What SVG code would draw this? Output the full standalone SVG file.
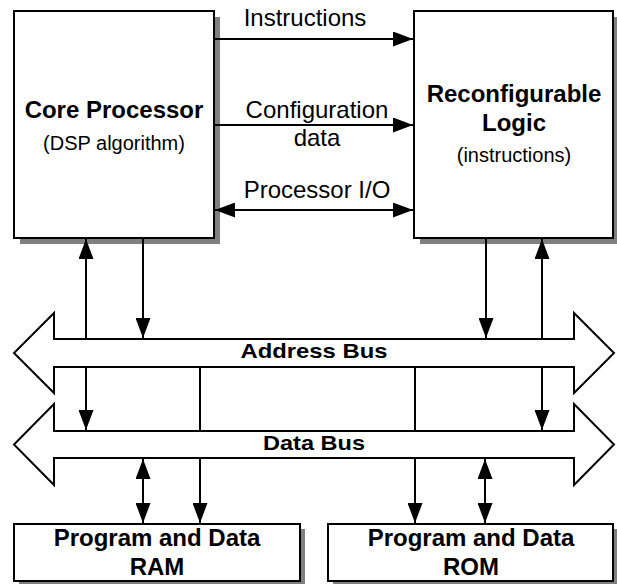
<svg xmlns="http://www.w3.org/2000/svg" width="617" height="584" viewBox="0 0 617 584">
<style>
.box{fill:#fff;stroke:#000;stroke-width:2}
.shadow{fill:#808080}
.bus{fill:#fff;stroke:#000;stroke-width:2;stroke-linejoin:miter}
.c{stroke:#000;stroke-width:2;fill:none}
.a{marker-end:url(#ah)}
.d{marker-start:url(#ah);marker-end:url(#ah)}
text{font-family:"Liberation Sans",Arial,sans-serif;fill:#000;text-anchor:middle}
.b{font-weight:bold;font-size:24px}
.r{font-size:24px}
.s{font-size:20px}
.bl{font-weight:bold;font-size:21px}
</style>
<defs>
<marker id="ah" markerUnits="userSpaceOnUse" markerWidth="20" markerHeight="15" refX="20" refY="7.5" orient="auto-start-reverse" viewBox="0 0 20 15">
<path d="M0,0 L20,7.5 L0,15 Z" fill="#000"/>
</marker>
</defs>
<rect width="617" height="584" fill="#fff"/>
<g id="core">
<rect class="shadow" x="20" y="17" width="200" height="227"/>
<rect class="box" x="14" y="11" width="200" height="227"/>
<text class="b" x="114" y="118">Core Processor</text>
<text class="s" x="114" y="150">(DSP algorithm)</text>
</g>
<g id="reconfig">
<rect class="shadow" x="420" y="17" width="199" height="227"/>
<rect class="box" x="414" y="11" width="199" height="227"/>
<text class="b" x="514" y="102">Reconfigurable</text>
<text class="b" x="514" y="131">Logic</text>
<text class="s" x="514" y="162">(instructions)</text>
</g>
<g id="address-bus">
<path class="bus" d="M54,339 H574 V313 L614,353 L574,393 V367 H54 V393 L14,353 L54,313 Z"/>
<text class="bl" x="314" y="358" textLength="147" lengthAdjust="spacingAndGlyphs">Address Bus</text>
</g>
<g id="data-bus">
<path class="bus" d="M54,431 H574 V404 L614,444.5 L574,485 V458 H54 V485 L14,444.5 L54,404 Z"/>
<text class="bl" x="314" y="450" textLength="102" lengthAdjust="spacingAndGlyphs">Data Bus</text>
</g>
<g id="ram">
<rect class="shadow" x="19" y="529" width="286" height="57"/>
<rect class="box" x="14" y="524" width="286" height="57"/>
<text class="b" x="157" y="546">Program and Data</text>
<text class="b" x="157" y="575">RAM</text>
</g>
<g id="rom">
<rect class="shadow" x="333" y="529" width="285" height="57"/>
<rect class="box" x="328" y="524" width="285" height="57"/>
<text class="b" x="471" y="546">Program and Data</text>
<text class="b" x="471" y="575">ROM</text>
</g>
<g id="connectors">
<line class="c a" x1="215" y1="39" x2="413" y2="39"/>
<line class="c a" x1="215" y1="125" x2="413" y2="125"/>
<line class="c d" x1="215" y1="210" x2="413" y2="210"/>
<line class="c a" x1="86" y1="339" x2="86" y2="239"/>
<line class="c a" x1="143" y1="239" x2="143" y2="338"/>
<line class="c a" x1="486" y1="239" x2="486" y2="338"/>
<line class="c a" x1="542" y1="339" x2="542" y2="239"/>
<line class="c a" x1="86" y1="367" x2="86" y2="430"/>
<line class="c" x1="200" y1="367" x2="200" y2="431"/>
<line class="c" x1="415" y1="367" x2="415" y2="431"/>
<line class="c a" x1="542" y1="367" x2="542" y2="430"/>
<line class="c d" x1="143" y1="459" x2="143" y2="523"/>
<line class="c a" x1="200" y1="458" x2="200" y2="523"/>
<line class="c a" x1="415" y1="458" x2="415" y2="523"/>
<line class="c d" x1="485" y1="459" x2="485" y2="523"/>
<text class="r" x="305" y="26">Instructions</text>
<text class="r" x="317" y="118">Configuration</text>
<text class="r" x="317" y="146">data</text>
<text class="r" x="317" y="198">Processor I/O</text>
</g>
</svg>
